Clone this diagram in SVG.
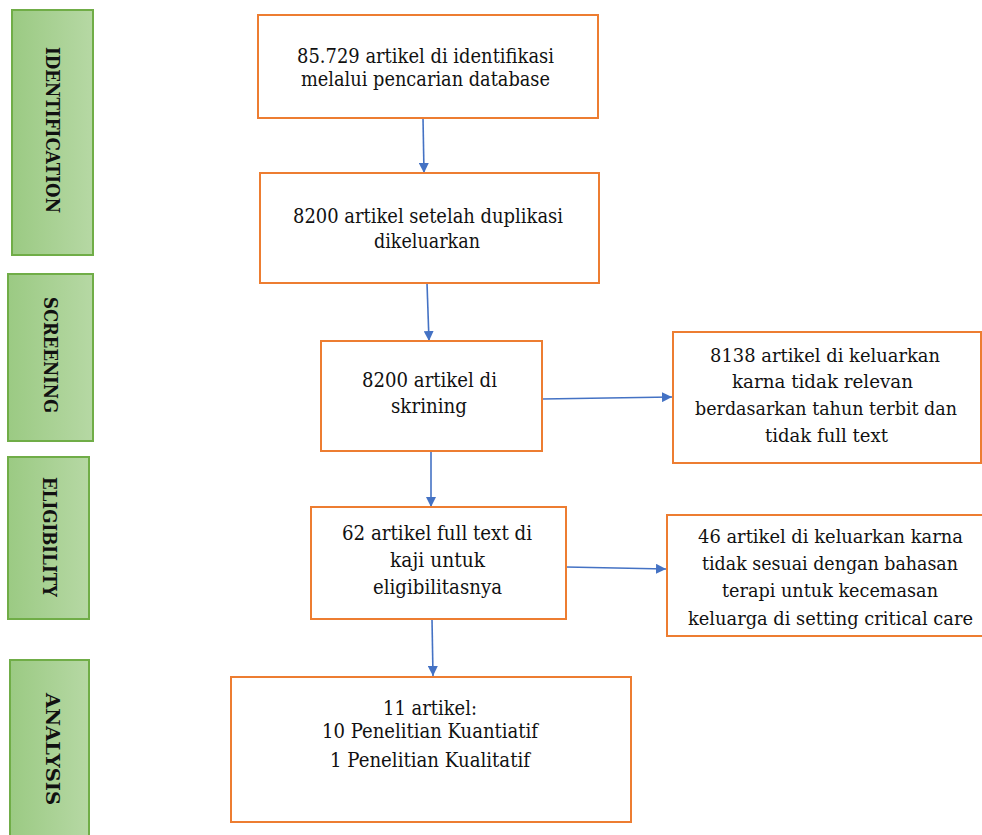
<svg xmlns="http://www.w3.org/2000/svg" width="982" height="835" viewBox="0 0 982 835">
<defs>
<linearGradient id="gr" x1="0" y1="0" x2="1" y2="0">
<stop offset="0" stop-color="#9bca83"/>
<stop offset="1" stop-color="#b6d8a4"/>
</linearGradient>
<marker id="ah" markerUnits="userSpaceOnUse" markerWidth="10" markerHeight="10" viewBox="0 0 10 10" refX="10" refY="5" orient="auto">
<path d="M0,0 L10,5 L0,10 z" fill="#4472c4"/>
</marker>
</defs>
<style>
.g{fill:url(#gr);stroke:#70ad47;stroke-width:2}
.b{fill:#fff;stroke:#ed7d31;stroke-width:2}
.t{font-family:"DejaVu Serif","Liberation Serif",serif;font-size:20px;fill:#111;text-anchor:middle}
.r{font-size:19px}
.s{font-family:"DejaVu Serif","Liberation Serif",serif;font-size:18px;font-weight:bold;fill:#111;text-anchor:middle}
.c{stroke:#4472c4;stroke-width:1.6;fill:none;marker-end:url(#ah)}
</style>
<rect width="982" height="835" fill="#fff"/>
<g id="stage-identification"><rect class="g" x="12" y="10" width="81" height="245"/><text class="s" transform="translate(46,130) rotate(90)" textLength="166" lengthAdjust="spacingAndGlyphs">IDENTIFICATION</text></g>
<g id="stage-screening"><rect class="g" x="8" y="274" width="85" height="167"/><text class="s" transform="translate(44,355) rotate(90)" textLength="116" lengthAdjust="spacingAndGlyphs">SCREENING</text></g>
<g id="stage-eligibility"><rect class="g" x="8" y="457" width="81" height="162"/><text class="s" transform="translate(43,537) rotate(90)" textLength="120" lengthAdjust="spacingAndGlyphs">ELIGIBILITY</text></g>
<g id="stage-analysis"><rect class="g" x="10" y="660" width="79" height="185"/><text class="s" transform="translate(46,749) rotate(90)" textLength="112" lengthAdjust="spacingAndGlyphs">ANALYSIS</text></g>
<g id="connectors">
<path class="c" d="M423,118 L424,173"/>
<path class="c" d="M427,283 L429,341"/>
<path class="c" d="M431,451 L431,507"/>
<path class="c" d="M432,619 L433,676"/>
<path class="c" d="M542,399 L672,397"/>
<path class="c" d="M566,567 L666,569"/>
</g>
<g id="n1"><rect class="b" x="258" y="15" width="340" height="103"/><text class="t" x="425.5" y="63" textLength="257" lengthAdjust="spacingAndGlyphs">85.729 artikel di identifikasi</text><text class="t" x="425.5" y="86" textLength="249" lengthAdjust="spacingAndGlyphs">melalui pencarian database</text></g>
<g id="n2"><rect class="b" x="260" y="173" width="339" height="110"/><text class="t" x="428" y="223" textLength="270" lengthAdjust="spacingAndGlyphs">8200 artikel  setelah duplikasi</text><text class="t" x="427" y="248" textLength="106" lengthAdjust="spacingAndGlyphs">dikeluarkan</text></g>
<g id="n3"><rect class="b" x="321" y="341" width="221" height="110"/><text class="t" x="429.5" y="387" textLength="135" lengthAdjust="spacingAndGlyphs">8200 artikel  di</text><text class="t" x="429" y="413" textLength="76" lengthAdjust="spacingAndGlyphs">skrining</text></g>
<g id="n4"><rect class="b" x="673" y="332" width="308" height="131"/><text class="t r" x="825" y="362" textLength="230" lengthAdjust="spacingAndGlyphs">8138 artikel  di keluarkan</text><text class="t r" x="822.5" y="388" textLength="181" lengthAdjust="spacingAndGlyphs">karna tidak relevan</text><text class="t r" x="826" y="415" textLength="262" lengthAdjust="spacingAndGlyphs">berdasarkan tahun terbit dan</text><text class="t r" x="826.5" y="442" textLength="123" lengthAdjust="spacingAndGlyphs">tidak full text</text></g>
<g id="n5"><rect class="b" x="311" y="507" width="255" height="112"/><text class="t" x="437" y="540" textLength="190" lengthAdjust="spacingAndGlyphs">62 artikel full text di</text><text class="t" x="437.5" y="567" textLength="95" lengthAdjust="spacingAndGlyphs">kaji untuk</text><text class="t" x="437.5" y="594" textLength="129" lengthAdjust="spacingAndGlyphs">eligibilitasnya</text></g>
<g id="n6"><rect class="b" x="667" y="515" width="325" height="121"/><text class="t r" x="830.5" y="543" textLength="265" lengthAdjust="spacingAndGlyphs">46 artikel di keluarkan karna</text><text class="t r" x="830" y="570" textLength="256" lengthAdjust="spacingAndGlyphs">tidak sesuai dengan bahasan</text><text class="t r" x="830" y="597" textLength="216" lengthAdjust="spacingAndGlyphs">terapi untuk kecemasan</text><text class="t r" x="830.5" y="625" textLength="285" lengthAdjust="spacingAndGlyphs">keluarga di setting critical  care</text></g>
<g id="n7"><rect class="b" x="231" y="677" width="400" height="145"/><text class="t" x="430" y="715" textLength="94" lengthAdjust="spacingAndGlyphs">11 artikel:</text><text class="t" x="430" y="738" textLength="216" lengthAdjust="spacingAndGlyphs">10 Penelitian Kuantiatif</text><text class="t" x="430" y="767" textLength="200" lengthAdjust="spacingAndGlyphs">1 Penelitian Kualitatif</text></g>
</svg>
